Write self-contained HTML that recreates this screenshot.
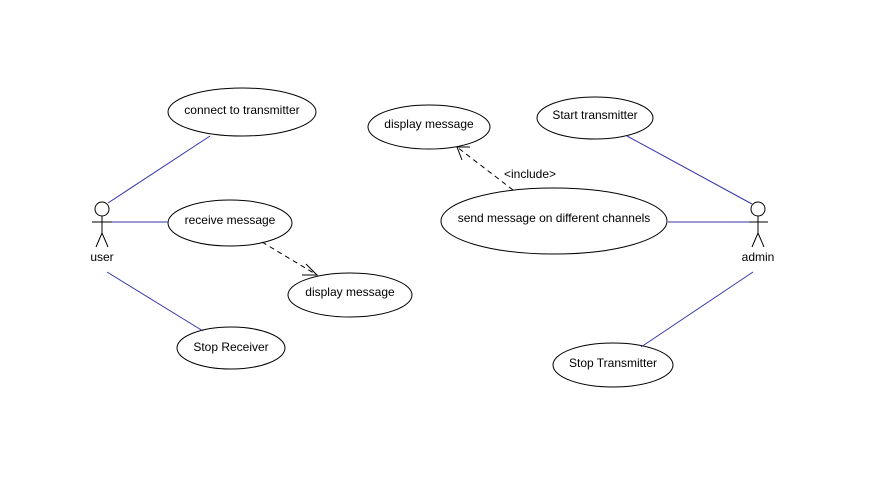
<!DOCTYPE html>
<html><head><meta charset="utf-8"><style>
html,body{margin:0;padding:0;background:#fff;}
svg text{font-family:"Liberation Sans",sans-serif;font-size:12px;fill:#000;}
</style></head><body>
<svg width="893" height="476" viewBox="0 0 893 476" xmlns="http://www.w3.org/2000/svg">
<rect width="893" height="476" fill="#fff"/>
<g fill="#fff" stroke="#000" stroke-width="1">
<ellipse cx="242" cy="112" rx="74" ry="24"/>
<ellipse cx="230" cy="223" rx="62" ry="23"/>
<ellipse cx="350" cy="295" rx="62" ry="22"/>
<ellipse cx="231" cy="348" rx="54" ry="21"/>
<ellipse cx="429" cy="127" rx="61" ry="22"/>
<ellipse cx="595" cy="118" rx="58" ry="21"/>
<ellipse cx="554" cy="221" rx="113" ry="33"/>
<ellipse cx="613" cy="365" rx="60" ry="22"/>
</g>
<g stroke="#3333aa" stroke-width="1">
<line x1="108" y1="203" x2="210" y2="136"/>
<line x1="110" y1="222" x2="168" y2="222"/>
<line x1="107" y1="272" x2="203" y2="331"/>
<line x1="627" y1="136" x2="752" y2="204"/>
<line x1="668" y1="222" x2="750" y2="222"/>
<line x1="753" y1="272" x2="641" y2="347"/>
</g>
<g stroke="#000" stroke-width="1" fill="none">
<line x1="262" y1="242" x2="317" y2="275" stroke-dasharray="5,4"/>
<polyline points="306,264 317,275 302,275"/>
<line x1="513" y1="190" x2="457" y2="147" stroke-dasharray="5,4"/>
<polyline points="462,160 457,147 470,147"/>
<circle cx="102" cy="209" r="7"/>
<line x1="102" y1="216" x2="102" y2="233"/>
<line x1="92" y1="222" x2="112" y2="222"/>
<polyline points="96,247 102,233 108,247"/>
<circle cx="758" cy="209" r="7"/>
<line x1="758" y1="216" x2="758" y2="233"/>
<line x1="749" y1="222" x2="768" y2="222"/>
<polyline points="752,247 758,233 764,247"/>
</g>
<text x="242" y="114" text-anchor="middle">connect to transmitter</text>
<text x="230" y="224" text-anchor="middle">receive message</text>
<text x="350" y="296" text-anchor="middle">display message</text>
<text x="231" y="351" text-anchor="middle">Stop Receiver</text>
<text x="429" y="128" text-anchor="middle">display message</text>
<text x="595" y="119" text-anchor="middle">Start transmitter</text>
<text x="554" y="222" text-anchor="middle">send message on different channels</text>
<text x="613" y="367" text-anchor="middle">Stop Transmitter</text>
<text x="530" y="178" text-anchor="middle">&lt;include&gt;</text>
<text x="102" y="261" text-anchor="middle">user</text>
<text x="758" y="261" text-anchor="middle">admin</text>
</svg>
</body></html>
